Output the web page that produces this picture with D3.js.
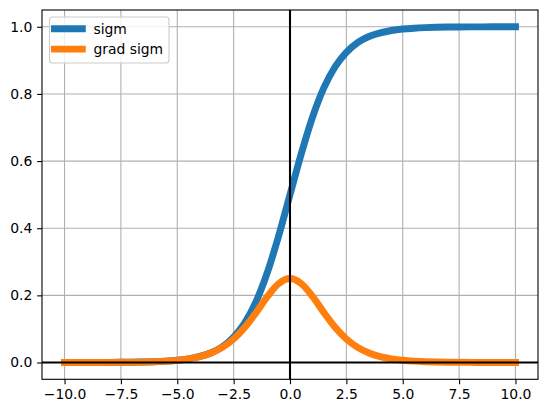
<!DOCTYPE html>
<html>
<head>
<meta charset="utf-8">
<script src="https://cdn.jsdelivr.net/npm/d3@7"></script>
<style>
  body { margin: 0; background: #fff; }
  svg { display: block; font-family: "DejaVu Sans", sans-serif; }
</style>
</head>
<body>
<div id="chart"></div>
<script>
// values, x from -10 to 10 every 0.5
var xs = [-10, -9.5, -9, -8.5, -8, -7.5, -7, -6.5, -6, -5.5, -5, -4.5, -4, -3.5, -3, -2.5, -2, -1.5, -1, -0.5,
          0, 0.5, 1, 1.5, 2, 2.5, 3, 3.5, 4, 4.5, 5, 5.5, 6, 6.5, 7, 7.5, 8, 8.5, 9, 9.5, 10];
var sigm = [0.00005, 0.00007, 0.00012, 0.0002, 0.00034, 0.00055, 0.0009, 0.0015, 0.0025, 0.0041, 0.0067, 0.011, 0.018, 0.029, 0.047, 0.076, 0.119, 0.182, 0.269, 0.378,
            0.5, 0.622, 0.731, 0.818, 0.881, 0.924, 0.953, 0.971, 0.982, 0.989, 0.9933, 0.9959, 0.9975, 0.9985, 0.9991, 0.99945, 0.99966, 0.9998, 0.99988, 0.99993, 0.99995];
var gradSigm = [0.00005, 0.00007, 0.00012, 0.0002, 0.00034, 0.00055, 0.0009, 0.0015, 0.0025, 0.0041, 0.0066, 0.0109, 0.0177, 0.0285, 0.045, 0.070, 0.105, 0.149, 0.197, 0.235,
                0.25, 0.235, 0.197, 0.149, 0.105, 0.070, 0.045, 0.0285, 0.0177, 0.0109, 0.0066, 0.0041, 0.0025, 0.0015, 0.0009, 0.00055, 0.00034, 0.0002, 0.00012, 0.00007, 0.00005];
var xTicks = [-10, -7.5, -5, -2.5, 0, 2.5, 5, 7.5, 10];
var yTicks = [0, 0.2, 0.4, 0.6, 0.8, 1.0];
var seriesNames = ["sigm", "grad sigm"];
var seriesColors = ["#1f77b4", "#ff7f0e"];

var width = 547, height = 413;
var axLeft = 42, axRight = 538, axTop = 10, axBottom = 379.3;
var fs = 13.9;

var svg = d3.select("#chart")
    .append("svg")
    .attr("width", width)
    .attr("height", height);

var x = d3.scaleLinear().domain([-11, 11]).range([axLeft, axRight]);
var y = d3.scaleLinear().domain([-0.05, 1.05]).range([axBottom, axTop]);

function fmt(v) {
    return d3.format(".1f")(v).replace("-", "\u2212");
}

// grid
svg.append("g").selectAll("line").data(xTicks).enter().append("line")
    .attr("x1", function(d) { return x(d); })
    .attr("x2", function(d) { return x(d); })
    .attr("y1", axTop).attr("y2", axBottom)
    .style("stroke", "#b0b0b0").style("stroke-width", 1.1);
svg.append("g").selectAll("line").data(yTicks).enter().append("line")
    .attr("y1", function(d) { return y(d); })
    .attr("y2", function(d) { return y(d); })
    .attr("x1", axLeft).attr("x2", axRight)
    .style("stroke", "#b0b0b0").style("stroke-width", 1.1);

// curves
var series = [sigm, gradSigm];
var line = d3.line()
    .x(function(d, i) { return x(xs[i]); })
    .y(function(d) { return y(d); })
    .curve(d3.curveMonotoneX);

svg.append("clipPath").attr("id", "clip").append("rect")
    .attr("x", axLeft).attr("y", axTop).attr("width", axRight - axLeft).attr("height", axBottom - axTop);
var plot = svg.append("g").attr("clip-path", "url(#clip)");

series.forEach(function(s, k) {
    plot.append("path")
        .datum(s)
        .attr("d", line)
        .style("fill", "none")
        .style("stroke", seriesColors[k])
        .style("stroke-width", 6.94)
        .style("stroke-linecap", "square")
        .style("stroke-linejoin", "round");
});

// black zero lines
plot.append("line")
    .attr("x1", axLeft).attr("x2", axRight)
    .attr("y1", y(0)).attr("y2", y(0))
    .style("stroke", "#000").style("stroke-width", 2.08);
plot.append("line")
    .attr("x1", x(0)).attr("x2", x(0))
    .attr("y1", axTop).attr("y2", axBottom)
    .style("stroke", "#000").style("stroke-width", 2.08);

// axes
var xAxis = d3.axisBottom(x).tickValues(xTicks).tickFormat(fmt).tickSize(4.86).tickPadding(4.86);
var yAxis = d3.axisLeft(y).tickValues(yTicks).tickFormat(fmt).tickSize(4.86).tickPadding(4.86);

var gx = svg.append("g").attr("transform", "translate(0," + axBottom + ")").call(xAxis);
var gy = svg.append("g").attr("transform", "translate(" + axLeft + ",0)").call(yAxis);
[gx, gy].forEach(function(g) {
    g.select(".domain").remove();
    g.selectAll(".tick line").style("stroke", "#000").style("stroke-width", 1.1);
    g.selectAll(".tick text")
        .style("font-family", "DejaVu Sans")
        .style("font-size", fs + "px")
        .style("fill", "#000");
});

// spines
svg.append("rect")
    .attr("x", axLeft).attr("y", axTop)
    .attr("width", axRight - axLeft).attr("height", axBottom - axTop)
    .style("fill", "none")
    .style("stroke", "#000")
    .style("stroke-width", 1.1);

// legend
var legend = svg.append("g");
legend.append("rect")
    .attr("x", 49.5).attr("y", 17)
    .attr("width", 119.5).attr("height", 46)
    .attr("rx", 3).attr("ry", 3)
    .style("fill", "#fff").style("fill-opacity", 0.8)
    .style("stroke", "#cccccc").style("stroke-width", 1.1);

seriesNames.forEach(function(name, k) {
    var ly = 28.7 + k * 20.4;
    legend.append("line")
        .attr("x1", 54.5).attr("x2", 82.3)
        .attr("y1", ly).attr("y2", ly)
        .style("stroke", seriesColors[k])
        .style("stroke-width", 6.94)
        .style("stroke-linecap", "square");
    legend.append("text")
        .attr("x", 93.4)
        .attr("y", ly)
        .attr("dy", "0.35em")
        .text(name)
        .style("font-size", fs + "px")
        .style("fill", "#000");
});
</script>
</body>
</html>
